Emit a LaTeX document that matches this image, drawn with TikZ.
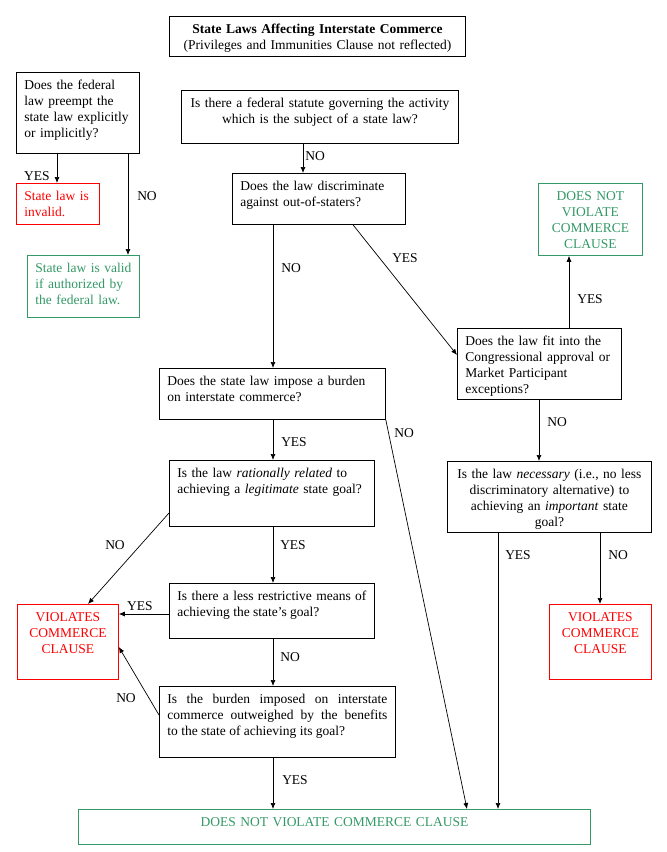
\documentclass[tikz,border=0pt]{standalone}
\usepackage{fontspec}
\setmainfont{Liberation Serif}
\usepackage{tikz}
\usetikzlibrary{arrows.meta}

\definecolor{lawred}{RGB}{255,0,0}
\definecolor{lawgreen}{RGB}{51,153,102}

\tikzset{
  qbox/.style 2 args={draw, line width=0.8pt, anchor=north west, inner xsep=8pt, inner ysep=0pt,
    text width=#1, text height=17pt, text depth=#2},
  redbox/.style={draw=lawred, text=lawred},
  greenbox/.style={draw=lawgreen, text=lawgreen},
  arr/.style={line width=0.7pt, -{Latex[length=6pt,width=5pt]}},
  lbl/.style={inner sep=0pt}
}

\begin{document}
\begin{tikzpicture}[x=1pt, y=-1pt, font=\fontsize{13.5}{16}\selectfont]

\useasboundingbox (0,0) rectangle (667,852);

% title
\node[qbox={280pt}{23pt}, align=center] (title) at (169,16)
  {\textbf{State Laws Affecting Interstate Commerce}\\(Privileges and Immunities Clause not reflected)};

% preemption
\node[qbox={107pt}{64pt}, align=left] (preempt) at (16,72) {Does the federal\\law preempt the\\state law explicitly\\or implicitly?};
\node[qbox={67pt}{24pt}, redbox, align=left] (invalid) at (16,183) {State law is\\invalid.};
\node[qbox={96pt}{45pt}, greenbox, align=left] (valid) at (27,255) {State law is valid\\if authorized by\\the federal law.};

% questions
\node[qbox={261pt}{36pt}, align=center] (statute) at (181,90) {Is there a federal statute governing the activity\\which is the subject of a state law?};
\node[qbox={157pt}{34pt}, align=left] (discrim) at (232,173) {Does the law discriminate\\against out-of-staters?};
\node[qbox={88pt}{55pt}, greenbox, align=center] (okTop) at (538,183) {DOES NOT\\VIOLATE\\COMMERCE\\CLAUSE};
\node[qbox={148pt}{54pt}, align=left] (except) at (457,328) {Does the law fit into the\\Congressional approval or\\Market Participant\\exceptions?};
\node[qbox={210pt}{34pt}, align=left] (burden) at (159,368) {Does the state law impose a burden\\on interstate commerce?};
\node[qbox={189pt}{49pt}, align=left] (rational) at (169,460) {Is the law \emph{rationally related} to\\achieving a \emph{legitimate} state goal?};
\node[qbox={188pt}{54pt}, align=center] (necessary) at (447,461) {Is the law \emph{necessary} (i.e., no less\\discriminatory alternative) to\\achieving an \emph{important} state\\goal?};
\node[qbox={189pt}{38pt}, align=justify] (restrict) at (169,583) {Is there a less restrictive means of\linebreak achieving the state’s goal?};
\node[qbox={220pt}{54pt}, align=justify] (weigh) at (159,686) {Is the burden imposed on interstate\linebreak commerce outweighed by the benefits\linebreak to the state of achieving its goal?};

% outcomes
\node[qbox={85pt}{58pt}, redbox, align=center] (violLeft) at (17,604) {VIOLATES\\COMMERCE\\CLAUSE};
\node[qbox={86pt}{58pt}, redbox, align=center] (violRight) at (549,604) {VIOLATES\\COMMERCE\\CLAUSE};
\node[qbox={496pt}{18pt}, greenbox, align=center] (okBottom) at (78,809) {DOES NOT VIOLATE COMMERCE CLAUSE};

% connectors
\draw[arr] (57,0 |- preempt.south) -- (57,0 |- invalid.north);
\draw[arr] (128,0 |- preempt.south) -- (128,0 |- valid.north);
\draw[arr] (303,0 |- statute.south) -- (303,0 |- discrim.north);
\draw[arr] (273,0 |- discrim.south) -- (273,0 |- burden.north);
\draw[arr] (353,0 |- discrim.south) -- (except.west |- 0,355);
\draw[arr] (569,0 |- except.north) -- (569,0 |- okTop.south);
\draw[arr] (539,0 |- except.south) -- (539,0 |- necessary.north);
\draw[arr] (273,0 |- burden.south) -- (273,0 |- rational.north);
\draw[arr] (burden.south east) -- (467,0 |- okBottom.north);
\draw[arr] (273,0 |- rational.south) -- (273,0 |- restrict.north);
\draw[arr] (rational.west |- 0,513) -- (88,0 |- violLeft.north);
\draw[arr] (restrict.west |- 0,614) -- (violLeft.east |- 0,614);
\draw[arr] (273,0 |- restrict.south) -- (273,0 |- weigh.north);
\draw[arr] (weigh.west |- 0,715) -- (violLeft.east |- 0,647);
\draw[arr] (273,0 |- weigh.south) -- (273,0 |- okBottom.north);
\draw[arr] (498,0 |- necessary.south) -- (498,0 |- okBottom.north);
\draw[arr] (600,0 |- necessary.south) -- (600,0 |- violRight.north);

% yes / no labels
\node[lbl] (yesInvalid) at (37,176) {YES};
\node[lbl] (noValid) at (147,196) {NO};
\node[lbl] (noStatute) at (315,156) {NO};
\node[lbl] (noDiscrim) at (291,268) {NO};
\node[lbl] (yesDiscrim) at (405,258) {YES};
\node[lbl] (yesExcept) at (590,299) {YES};
\node[lbl] (noExcept) at (557,422) {NO};
\node[lbl] (yesBurden) at (294,442) {YES};
\node[lbl] (noBurden) at (404,433) {NO};
\node[lbl] (yesRational) at (293,545) {YES};
\node[lbl] (noRational) at (115,545) {NO};
\node[lbl] (yesRestrict) at (140,606) {YES};
\node[lbl] (noRestrict) at (290,657) {NO};
\node[lbl] (noWeigh) at (126,698) {NO};
\node[lbl] (yesWeigh) at (295,780) {YES};
\node[lbl] (yesNecessary) at (518,555) {YES};
\node[lbl] (noNecessary) at (618,555) {NO};

\end{tikzpicture}
\end{document}
